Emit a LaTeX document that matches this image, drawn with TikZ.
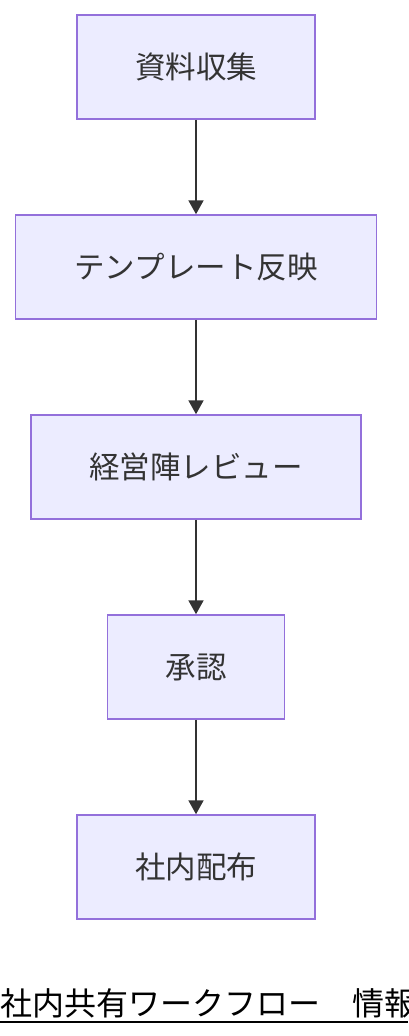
\documentclass[tikz,border=0pt]{standalone}
\usepackage{fontspec}
\setmainfont{Noto Sans CJK JP}
\usetikzlibrary{arrows.meta}
\definecolor{nodefill}{HTML}{ECECFF}
\definecolor{nodeline}{HTML}{9370DB}
\definecolor{edgec}{HTML}{333333}
\tikzset{
  stepbox/.style={draw=nodeline, fill=nodefill, line width=1.5pt, minimum height=104pt, inner sep=0pt, text=edgec, font=\fontsize{30.5}{34}\selectfont},
  flow/.style={draw=edgec, line width=2pt, -{Triangle[length=14pt,width=15pt]}, shorten >=0pt}
}
\begin{document}
\begin{tikzpicture}[x=1pt,y=-1pt]
\useasboundingbox (0,0) rectangle (408,1036);
\clip (0,0) rectangle (408,1036);
\node[stepbox, minimum width=238pt] (n1) at (196,67) {資料収集};
\node[stepbox, minimum width=361pt] (n2) at (196,267) {テンプレート反映};
\node[stepbox, minimum width=330pt] (n3) at (196,467) {経営陣レビュー};
\node[stepbox, minimum width=177pt] (n4) at (196,667) {承認};
\node[stepbox, minimum width=238pt] (n5) at (196,867) {社内配布};
\draw[flow] (n1.south) -- (n2.north);
\draw[flow] (n2.south) -- (n3.north);
\draw[flow] (n3.south) -- (n4.north);
\draw[flow] (n4.south) -- (n5.north);
\node[anchor=base west, inner sep=0pt, text=black, font=\fontsize{32}{34}\selectfont] (title) at (0,1015) {社内共有ワークフロー　情報};
\draw[black, line width=2pt] (0,1022) -- (408,1022);
\end{tikzpicture}
\end{document}
